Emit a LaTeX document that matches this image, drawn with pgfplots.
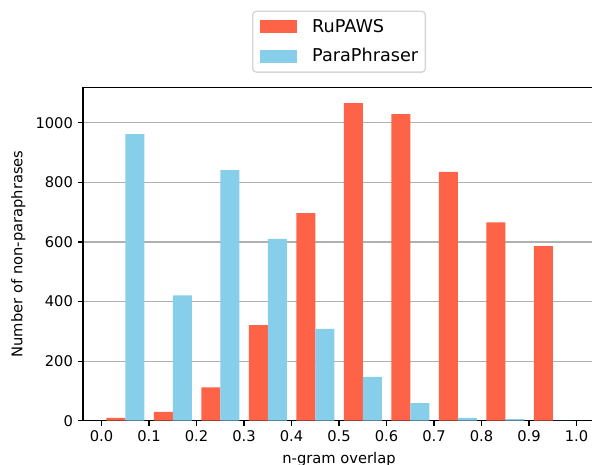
\documentclass[border=0pt]{standalone}
\usepackage{fontspec}
\setmainfont{DejaVu Sans}
\usepackage{pgfplots}
\pgfplotsset{compat=1.18}
\definecolor{tomato}{RGB}{255,99,71}
\definecolor{skyblue}{RGB}{135,206,235}
\definecolor{gridgray}{RGB}{176,176,176}
\definecolor{legframe}{RGB}{214,214,214}
\begin{document}
\begin{tikzpicture}
\begin{axis}[
  at={(0,0)}, anchor=south west,
  scale only axis,
  width=348.2pt, height=226.9pt,
  xmin=-0.039, xmax=1.039, ymin=0, ymax=1120,
  axis x line*=box, axis y line*=left,
  axis line style={line width=0.75pt, -},
  tick pos=left, tick align=outside,
  major tick length=3.3pt,
  every tick/.style={line width=0.75pt, black},
  xtick={0,0.1,0.2,0.3,0.4,0.5,0.6,0.7,0.8,0.9,1.0},
  xticklabels={0.0,0.1,0.2,0.3,0.4,0.5,0.6,0.7,0.8,0.9,1.0},
  ytick={0,200,400,600,800,1000},
  scaled y ticks=false,
  /pgf/number format/assume math mode=true,
  /pgf/number format/1000 sep={},
  ticklabel style={font=\fontsize{10}{12}\selectfont},
  ymajorgrids,
  major grid style={gridgray, line width=0.75pt},
  xlabel={n-gram overlap},
  ylabel={Number of non-paraphrases},
  label style={font=\fontsize{10}{12}\selectfont},
  legend style={at={(0.5,1.0427)}, anchor=south, draw=legframe, rounded corners=2.5pt,
    font=\fontsize{12}{14}\selectfont, inner xsep=4.9pt, inner ysep=5.5pt,
    nodes={inner sep=0pt},
    row sep=9.4pt, column sep=10.2pt, line width=0.9pt},
  legend cell align=left,
  legend image code/.code={\fill[#1, sharp corners] (0pt,-4.4pt) rectangle (25.4pt,4.4pt);},
]
\addplot[ybar, bar width=0.04, bar shift=0pt, fill=tomato, draw=none] coordinates {
(0.03,10) (0.13,30) (0.23,112) (0.33,321) (0.43,697) (0.53,1066) (0.63,1029) (0.73,835) (0.83,666) (0.93,586)};
\addlegendentry{RuPAWS}
\addplot[ybar, bar width=0.04, bar shift=0pt, fill=skyblue, draw=none] coordinates {
(0.07,962) (0.17,421) (0.27,841) (0.37,610) (0.47,308) (0.57,147) (0.67,59) (0.77,10) (0.87,5) (0.97,0)};
\addlegendentry{ParaPhraser}
\end{axis}
\pgfresetboundingbox
\path[use as bounding box] (-56.44pt,-30.1pt) rectangle (346.12pt,286.1pt);
\end{tikzpicture}
\end{document}
